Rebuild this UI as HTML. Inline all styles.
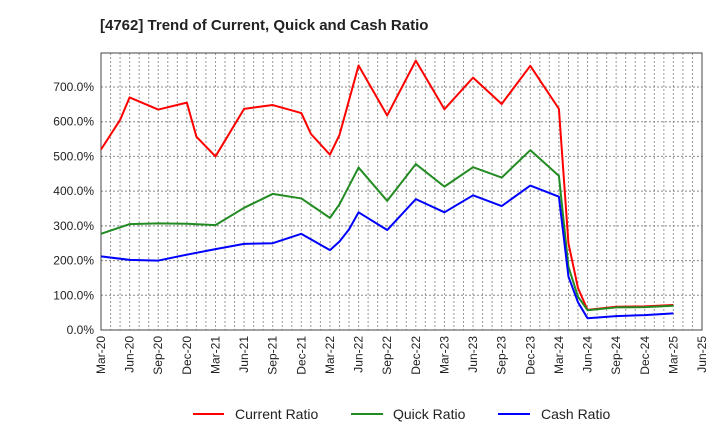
<!DOCTYPE html>
<html><head><meta charset="utf-8"><style>
body{margin:0;background:#fff;}
svg text{font-family:"Liberation Sans",sans-serif;}
</style></head><body>
<svg id="chart" width="720" height="440" xmlns="http://www.w3.org/2000/svg">
<text x="100" y="30" font-size="15" font-weight="bold" fill="#222">[4762]  Trend of Current, Quick and Cash Ratio</text>
<g id="grid"></g>
<g id="axes"></g>
<g id="series"></g>
<g id="legend">
<line x1="193" y1="414" x2="224" y2="414" stroke="#f00" stroke-width="2"/>
<text x="235" y="419" font-size="14" fill="#222">Current Ratio</text>
<line x1="351" y1="414" x2="383" y2="414" stroke="#228b22" stroke-width="2"/>
<text x="393" y="419" font-size="14" fill="#222">Quick Ratio</text>
<line x1="498" y1="414" x2="530" y2="414" stroke="#00f" stroke-width="2"/>
<text x="541" y="419" font-size="14" fill="#222">Cash Ratio</text>
</g>
</svg>
<script>
const xTickLabels=["Mar-20","Jun-20","Sep-20","Dec-20","Mar-21","Jun-21","Sep-21","Dec-21","Mar-22","Jun-22","Sep-22","Dec-22","Mar-23","Jun-23","Sep-23","Dec-23","Mar-24","Jun-24","Sep-24","Dec-24","Mar-25","Jun-25"];
const yTicks=[0,100,200,300,400,500,600,700];
const currentMonths=[0,2,3,6,9,10,12,15,18,21,22,24,25,27,30,33,36,39,42,45,48,49,50,51,54,57,60];
const currentVals=[520,605,670,635,655,557,500,637,648,625,565,505,562,762,618,776,636,727,651,761,637,250,121,58,67,68,72];
const quickMonths=[0,3,6,9,12,15,18,21,24,25,27,30,33,36,39,42,45,48,49,50,51,54,57,60];
const quickVals=[277,305,307,306,302,352,392,379,323,362,468,372,478,413,469,439,518,444,182,96,57,65,66,70];
const cashMonths=[0,3,6,9,12,15,18,21,24,25,26,27,30,33,36,39,42,45,48,49,50,51,54,57,60];
const cashVals=[212,202,200,217,233,248,250,277,230,255,290,339,288,377,339,388,357,416,384,154,80,34,40,43,48];
const X0=101,X1=702,Y0=330,YT=53,NM=63;
const xs=m=>X0+(X1-X0)*m/NM;
const ys=v=>Y0-(Y0-87)*v/700;
const NS="http://www.w3.org/2000/svg";
function mk(tag,attrs,parent){const e=document.createElementNS(NS,tag);for(const k in attrs)e.setAttribute(k,attrs[k]);parent.appendChild(e);return e;}
const grid=document.getElementById('grid'),axes=document.getElementById('axes'),ser=document.getElementById('series');
for(let m=1;m<NM;m++){const l=mk('line',{x1:xs(m),x2:xs(m),y1:YT,y2:Y0,stroke:'#999','stroke-width':1,'stroke-dasharray':'2,2'},grid);

}
yTicks.forEach(v=>{if(v>0){const l=mk('line',{x1:X0,x2:X1,y1:ys(v),y2:ys(v),stroke:'#888','stroke-width':1,'stroke-dasharray':'2,2'},grid);

}
const t=mk('text',{x:94,y:ys(v)+4,'font-size':12,'text-anchor':'end',fill:'#222'},axes);t.textContent=v.toFixed(1)+'%';

});
xTickLabels.forEach((s,i)=>{const x=xs(i*3);const t=mk('text',{x:0,y:0,'font-size':12,'text-anchor':'end',fill:'#222',transform:`translate(${x+4},336) rotate(-90)`},axes);t.textContent=s;

});
const fr=mk('rect',{x:X0,y:YT,width:X1-X0,height:Y0-YT,fill:'none',stroke:'#444','stroke-width':1},axes);


function line(ms,vs,color,name){const p=mk('polyline',{points:ms.map((m,i)=>xs(m)+','+ys(vs[i])).join(' '),fill:'none',stroke:color,'stroke-width':2,'stroke-linejoin':'round'},ser);

}
line(currentMonths,currentVals,'#f00','current-ratio-line');
line(quickMonths,quickVals,'#228b22','quick-ratio-line');
line(cashMonths,cashVals,'#00f','cash-ratio-line');
</script>
</body></html>
